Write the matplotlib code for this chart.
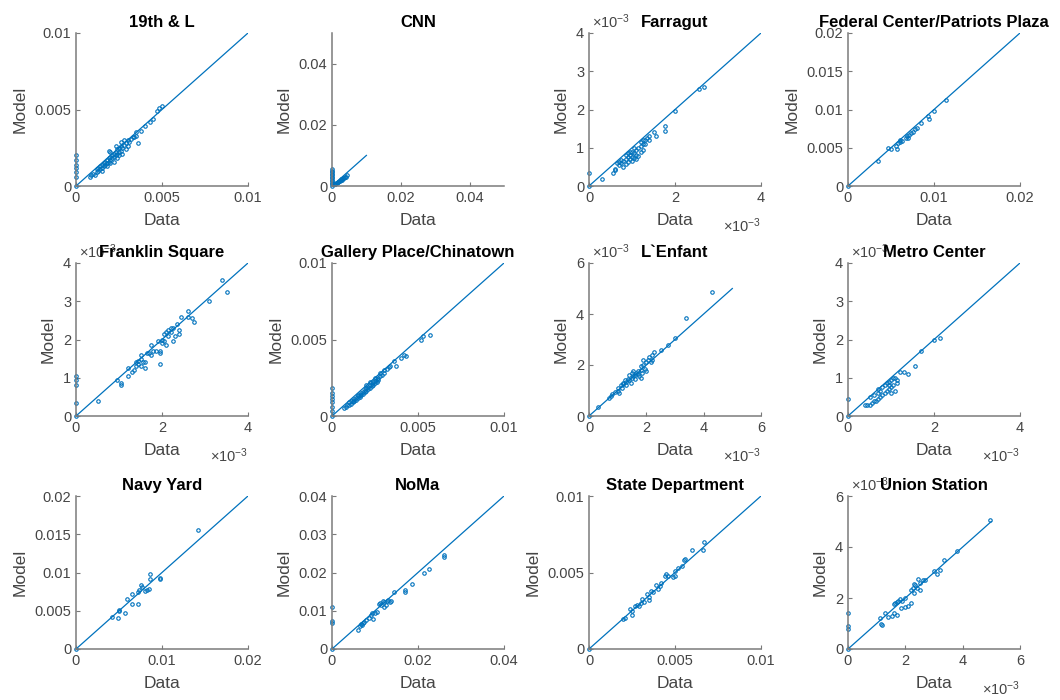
import matplotlib.pyplot as plt
import numpy as np
from matplotlib.ticker import FuncFormatter

plt.rcParams['font.family'] = ['Liberation Sans', 'DejaVu Sans']
plt.rcParams['mathtext.fontset'] = 'custom'
plt.rcParams['mathtext.rm'] = 'Liberation Sans'
plt.rcParams['mathtext.it'] = 'Liberation Sans:italic'

BLUE = '#0072BD'
AXIS = '#7a7a7a'
TEXT = '#454545'

stations = ['19th & L', 'CNN', 'Farragut', 'Federal Center/Patriots Plaza',
            'Franklin Square', 'Gallery Place/Chinatown', 'L`Enfant', 'Metro Center',
            'Navy Yard', 'NoMa', 'State Department', 'Union Station']

# (data, model) pairs per station, in units of 1e-3
pts_19th = [(0, 0), (0, 0.6), (0, 0.9), (0, 1.2), (0, 1.4), (0, 1.7), (0, 2.0),
            (0.8, 0.6), (0.9, 0.7), (1.0, 0.8), (1.1, 0.75), (1.2, 0.9), (1.2, 1.1),
            (1.3, 1.0), (1.3, 1.2), (1.4, 1.1), (1.4, 1.3), (1.5, 1.2), (1.5, 1.4),
            (1.6, 1.3), (1.6, 1.5), (1.7, 1.4), (1.7, 1.6), (1.8, 1.5), (1.8, 1.7),
            (1.9, 1.6), (1.9, 1.8), (2.0, 1.7), (2.0, 1.9), (2.0, 1.5), (2.1, 1.8),
            (2.1, 2.0), (2.2, 1.9), (2.2, 2.1), (2.2, 1.6), (2.3, 2.0), (2.3, 2.2),
            (2.4, 2.1), (2.4, 2.4), (2.4, 1.8), (2.5, 2.2), (2.5, 2.5), (2.6, 2.3),
            (2.6, 2.6), (2.7, 2.5), (2.7, 2.1), (2.8, 2.7), (2.9, 2.8), (3.0, 3.0),
            (3.0, 2.6), (3.1, 2.9), (3.2, 3.1), (3.3, 3.2), (3.4, 3.2), (3.5, 3.3),
            (3.6, 2.8), (3.8, 3.6), (4.0, 3.9), (4.3, 4.2), (4.5, 4.4), (4.7, 4.9),
            (4.8, 5.1), (5.0, 5.2), (1.9, 2.3), (2.3, 2.6), (2.6, 2.9), (2.8, 3.0),
            (1.5, 1.0), (1.8, 1.3), (2.5, 2.0), (2.0, 2.2), (2.9, 2.4), (3.5, 3.5)]
pts_cnn = [(0, 0), (0, 0.5), (0, 1), (0, 1.5), (0, 2), (0, 2.5), (0, 3), (0, 3.5),
           (0, 4), (0, 4.5), (0, 5), (0, 5.5), (0.5, 0.5), (0.8, 0.6), (1, 0.8),
           (1.2, 1.0), (1.5, 1.1), (1.8, 1.3), (2, 1.5), (2.2, 1.6), (2.5, 1.8),
           (2.8, 2.0), (3, 2.2), (3.3, 2.5), (3.5, 2.6), (4, 3.0), (4.3, 3.5),
           (2.6, 2.2), (1.6, 1.4), (3.8, 2.8)]
pts_farragut = [(0, 0), (0, 0.33), (0.3, 0.18), (0.55, 0.35), (0.6, 0.42), (0.6, 0.45),
                (0.7, 0.55), (0.7, 0.62), (0.75, 0.6), (0.8, 0.5), (0.8, 0.65),
                (0.85, 0.7), (0.85, 0.58), (0.9, 0.75), (0.9, 0.62), (0.9, 0.85),
                (0.95, 0.8), (0.95, 0.7), (1.0, 0.9), (1.0, 0.65), (1.0, 0.75),
                (1.05, 0.85), (1.05, 0.72), (1.1, 0.95), (1.1, 0.8), (1.1, 0.7),
                (1.15, 1.0), (1.15, 0.78), (1.2, 1.05), (1.2, 0.9), (1.2, 1.15),
                (1.25, 1.1), (1.25, 0.95), (1.3, 1.2), (1.3, 1.1), (1.35, 1.25),
                (1.4, 1.3), (1.4, 1.2), (1.5, 1.4), (1.55, 1.3), (1.77, 1.57),
                (1.77, 1.44), (2.0, 1.96), (2.55, 2.54), (2.68, 2.59), (0.65, 0.6),
                (0.75, 0.68), (0.95, 0.9), (1.05, 1.0), (0.85, 0.8), (1.25, 1.2)]
pts_federal = [(0, 0), (3.5, 3.3), (4.7, 5.0), (5.0, 4.9), (5.6, 5.2), (5.7, 4.9),
               (5.8, 5.6), (6.0, 6.0), (6.1, 5.8), (6.3, 5.9), (6.8, 6.3), (6.9, 6.5),
               (7.0, 6.3), (7.1, 6.7), (7.3, 6.9), (7.6, 7.1), (7.8, 7.4), (8.0, 7.6),
               (8.5, 8.2), (9.3, 9.1), (9.4, 8.8), (10.0, 9.8), (11.4, 11.3)]
pts_franklin = [(0, 0), (0, 0.35), (0, 0.8), (0, 0.95), (0, 1.05), (0.5, 0.4),
                (0.95, 0.95), (1.05, 0.8), (1.05, 0.85), (1.2, 1.05), (1.2, 1.25),
                (1.3, 1.15), (1.35, 1.2), (1.4, 1.4), (1.4, 1.3), (1.45, 1.45),
                (1.45, 1.35), (1.5, 1.5), (1.5, 1.3), (1.55, 1.4), (1.6, 1.25),
                (1.6, 1.4), (1.65, 1.65), (1.75, 1.6), (1.75, 1.85), (1.8, 1.7),
                (1.85, 1.7), (1.9, 1.95), (1.95, 1.7), (1.95, 1.65), (1.95, 1.35),
                (2.0, 1.9), (2.0, 2.0), (2.05, 2.15), (2.1, 1.85), (2.1, 2.2),
                (2.15, 2.1), (2.15, 2.25), (2.2, 2.2), (2.2, 2.3), (2.25, 2.3),
                (2.25, 1.95), (2.3, 2.1), (2.35, 2.4), (2.4, 2.25), (2.4, 2.15),
                (2.45, 2.6), (2.6, 2.6), (2.6, 2.75), (2.7, 2.55), (2.75, 2.45),
                (3.1, 3.0), (3.4, 3.55), (3.5, 3.25), (1.7, 1.65), (1.5, 1.6), (2.05, 1.95)]
pts_gallery = [(0, 0), (0, 0.3), (0, 0.6), (0, 0.9), (0, 1.1), (0, 1.3), (0, 1.5),
               (0, 1.8), (0.7, 0.5), (0.8, 0.6), (0.9, 0.7), (1.0, 0.7), (1.0, 0.9),
               (1.1, 0.8), (1.2, 1.0), (1.2, 0.9), (1.3, 1.1), (1.3, 0.95), (1.4, 1.2),
               (1.4, 1.05), (1.5, 1.3), (1.5, 1.15), (1.6, 1.4), (1.6, 1.25), (1.7, 1.5),
               (1.7, 1.35), (1.8, 1.6), (1.8, 1.45), (1.9, 1.7), (1.9, 1.55), (2.0, 1.8),
               (2.0, 1.65), (2.1, 1.9), (2.1, 1.75), (2.2, 2.0), (2.2, 1.85), (2.3, 2.1),
               (2.3, 1.95), (2.4, 2.2), (2.4, 2.05), (2.5, 2.3), (2.5, 2.15), (2.6, 2.4),
               (2.6, 2.25), (2.7, 2.5), (2.7, 2.35), (2.8, 2.6), (2.8, 2.8), (2.9, 2.7),
               (3.0, 2.8), (3.0, 3.0), (3.2, 3.1), (3.3, 3.2), (3.4, 3.3), (3.6, 3.6),
               (3.7, 3.3), (4.0, 3.8), (4.2, 4.0), (4.3, 3.9), (5.2, 5.0), (5.3, 5.2),
               (5.7, 5.3), (1.5, 1.4), (2.0, 2.0), (2.5, 2.5), (1.1, 1.0), (2.2, 2.2)]
pts_lenfant = [(0, 0), (0.3, 0.35), (0.7, 0.7), (0.75, 0.8), (0.8, 0.85), (0.9, 0.95),
               (1.0, 1.0), (1.0, 1.1), (1.05, 0.9), (1.1, 1.2), (1.15, 1.1), (1.2, 1.3),
               (1.2, 1.25), (1.3, 1.35), (1.3, 1.2), (1.35, 1.45), (1.4, 1.4), (1.4, 1.6),
               (1.45, 1.3), (1.5, 1.5), (1.5, 1.7), (1.55, 1.55), (1.6, 1.6), (1.6, 1.45),
               (1.65, 1.7), (1.7, 1.75), (1.7, 1.65), (1.75, 1.55), (1.8, 1.8),
               (1.8, 1.95), (1.8, 1.5), (1.85, 1.7), (1.9, 2.0), (1.9, 2.2), (1.95, 1.85),
               (2.0, 2.1), (2.0, 1.75), (2.05, 2.2), (2.1, 2.3), (2.15, 2.1), (2.2, 2.4),
               (2.2, 2.2), (2.25, 2.5), (2.5, 2.6), (2.75, 2.8), (3.0, 3.05), (3.4, 3.85),
               (4.3, 4.85), (1.25, 1.4), (1.55, 1.75)]
pts_metro = [(0, 0), (0, 0.45), (0.4, 0.28), (0.45, 0.3), (0.5, 0.3), (0.5, 0.5),
             (0.55, 0.35), (0.6, 0.4), (0.6, 0.55), (0.65, 0.38), (0.7, 0.7), (0.7, 0.45),
             (0.75, 0.5), (0.75, 0.65), (0.8, 0.75), (0.8, 0.55), (0.85, 0.6), (0.85, 0.8),
             (0.9, 0.85), (0.9, 0.65), (0.95, 0.9), (0.95, 0.7), (1.0, 0.95), (1.0, 0.75),
             (1.0, 0.6), (1.05, 1.0), (1.05, 0.8), (1.1, 1.0), (1.1, 0.65), (1.15, 0.95),
             (1.2, 1.15), (1.3, 1.15), (1.4, 1.1), (1.55, 1.3), (1.7, 1.7), (2.0, 2.0),
             (2.15, 2.05), (0.95, 0.8), (0.7, 0.6), (1.15, 0.85)]
pts_navy = [(0, 0), (4.2, 4.2), (4.9, 4.1), (5.0, 5.0), (5.0, 5.1), (5.7, 4.7),
            (5.9, 6.5), (6.5, 5.9), (6.5, 7.2), (7.2, 7.5), (7.2, 5.9), (7.3, 7.7),
            (7.5, 8.4), (7.7, 8.1), (8.0, 7.6), (8.3, 7.7), (8.5, 7.8), (8.6, 9.8),
            (8.6, 9.1), (9.8, 9.3), (9.8, 9.1), (14.2, 15.5)]
pts_noma = [(0, 0), (0, 6.8), (0, 7.2), (0, 11.0), (6, 5), (6.5, 6), (6.8, 6.5),
            (7, 6.2), (7.2, 6.8), (7.5, 7), (8, 7.5), (8.5, 8), (9, 9), (9.2, 9.5),
            (9.5, 7.8), (10, 9.5), (10.5, 9.8), (11, 11.8), (11.2, 12), (11.5, 11.5),
            (11.8, 12.5), (12, 11), (12.2, 12.2), (12.5, 11.5), (12.8, 12.5),
            (13, 12.8), (13.5, 12.3), (13.8, 12.5), (14.5, 15), (17, 15.5), (17, 14.8),
            (18.5, 17), (21.5, 19.8), (22.5, 20.8), (26, 24), (26, 24.5)]
pts_state = [(0, 0), (2.0, 1.95), (2.1, 2.0), (2.4, 2.6), (2.5, 2.2), (2.5, 2.5),
             (2.7, 2.8), (2.8, 2.9), (2.9, 2.8), (3.0, 3.0), (3.1, 3.3), (3.2, 3.1),
             (3.4, 3.6), (3.5, 3.4), (3.5, 3.2), (3.6, 3.8), (3.7, 3.7), (3.9, 4.2),
             (4.0, 3.9), (4.1, 4.1), (4.2, 4.3), (4.4, 4.8), (4.5, 4.9), (4.6, 4.8),
             (4.9, 4.7), (5.0, 5.1), (5.0, 4.8), (5.2, 5.3), (5.4, 5.4), (5.5, 5.8),
             (5.6, 5.9), (6.0, 6.5), (6.6, 6.5), (6.7, 7.0)]
pts_union = [(0, 0), (0, 0.8), (0, 0.9), (0, 1.4), (1.1, 1.2), (1.15, 1.0), (1.2, 0.95),
             (1.3, 1.4), (1.4, 1.25), (1.55, 1.3), (1.6, 1.75), (1.6, 1.4), (1.65, 1.8),
             (1.7, 1.35), (1.75, 1.9), (1.8, 1.95), (1.85, 1.6), (1.9, 1.9), (2.0, 2.0),
             (2.0, 1.65), (2.1, 1.7), (2.2, 2.3), (2.2, 1.8), (2.25, 2.4), (2.3, 2.2),
             (2.35, 2.5), (2.4, 2.4), (2.45, 2.75), (2.5, 2.3), (2.5, 2.6), (2.6, 2.7),
             (2.7, 2.7), (3.0, 3.05), (3.1, 2.95), (3.2, 3.1), (3.35, 3.5), (3.8, 3.85),
             (4.95, 5.05), (1.7, 1.85), (2.3, 2.55)]

points = [pts_19th, pts_cnn, pts_farragut, pts_federal, pts_franklin, pts_gallery,
          pts_lenfant, pts_metro, pts_navy, pts_noma, pts_state, pts_union]

# axis limit and end of the 1:1 reference line (units of 1e-3)
axis_max = [10, 50, 4, 20, 4, 10, 6, 4, 20, 40, 10, 6]
line_max = [10, 10, 4, 20, 4, 10, 5, 4, 20, 40, 10, 5]
x_ticks = [[0, 5, 10], [0, 20, 40], [0, 2, 4], [0, 10, 20],
           [0, 2, 4], [0, 5, 10], [0, 2, 4, 6], [0, 2, 4],
           [0, 10, 20], [0, 20, 40], [0, 5, 10], [0, 2, 4, 6]]
y_ticks = [[0, 5, 10], [0, 20, 40], [0, 1, 2, 3, 4], [0, 5, 10, 15, 20],
           [0, 1, 2, 3, 4], [0, 5, 10], [0, 2, 4, 6], [0, 1, 2, 3, 4],
           [0, 5, 10, 15, 20], [0, 10, 20, 30, 40], [0, 5, 10], [0, 2, 4, 6]]
# panels whose tick labels are shown as multiples of 1e-3
exp_panels = [2, 4, 6, 7, 11]

fig = plt.figure(figsize=(10.6, 7), dpi=100)
col_left = [76, 332, 589, 848]
row_top = [33, 263, 496]
ax_w, ax_h = 172, 153

for i, name in enumerate(stations):
    r, c = divmod(i, 4)
    ax = fig.add_axes([col_left[c] / 1060, 1 - (row_top[r] + ax_h) / 700,
                       ax_w / 1060, ax_h / 700])
    pts = np.array(points[i]) * 1e-3
    m = line_max[i] * 1e-3
    ax.plot([0, m], [0, m], color=BLUE, lw=0.9)
    ax.plot(pts[:, 0], pts[:, 1], 'o', ms=2.5, mfc='none', mec=BLUE, mew=0.8,
            clip_on=False)

    lim = axis_max[i] * 1e-3
    ax.set_xlim(0, lim)
    ax.set_ylim(0, lim)
    ax.set_xticks(np.array(x_ticks[i]) * 1e-3)
    ax.set_yticks(np.array(y_ticks[i]) * 1e-3)
    scale = 1e3 if i in exp_panels else 1
    fmt = FuncFormatter(lambda v, _, s=scale: '%g' % round(v * s, 6))
    ax.xaxis.set_major_formatter(fmt)
    ax.yaxis.set_major_formatter(fmt)
    if i in exp_panels:
        ax.text(0.02, 1.015, r'$\times10^{-3}$', transform=ax.transAxes,
                ha='left', va='bottom', fontsize=10.5, color=TEXT)
        ax.text(1.0, -0.2, r'$\times10^{-3}$', transform=ax.transAxes,
                ha='right', va='top', fontsize=10.5, color=TEXT)

    for side in ['top', 'right']:
        ax.spines[side].set_visible(False)
    for side in ['left', 'bottom']:
        ax.spines[side].set_color(AXIS)
        ax.spines[side].set_linewidth(1.1)
    ax.tick_params(direction='in', length=3, width=0.8, color=AXIS,
                   labelcolor=TEXT, labelsize=10.5)
    ax.set_title(name, fontsize=12, fontweight='bold', pad=4)
    ax.set_xlabel('Data', fontsize=12.5, color=TEXT, labelpad=6)
    ax.set_ylabel('Model', fontsize=12.5, color=TEXT, labelpad=5)

fig.savefig('out.png', dpi=100)
